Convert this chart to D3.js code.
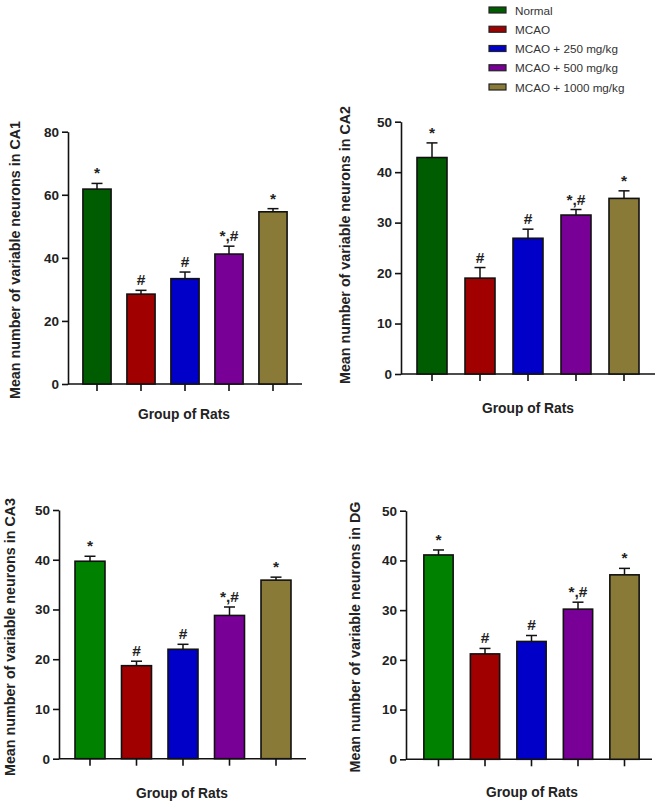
<!DOCTYPE html>
<html>
<head>
<meta charset="utf-8">
<script src="https://cdn.jsdelivr.net/npm/d3@7"></script>
<style>
  body { margin: 0; background: #fff; }
  svg { display: block; font-family: "Liberation Sans", Arial, sans-serif; }
</style>
</head>
<body>
<svg width="662" height="807"></svg>
<script>
// groups shown in every panel
const groups = ['Normal', 'MCAO', 'MCAO + 250 mg/kg', 'MCAO + 500 mg/kg', 'MCAO + 1000 mg/kg'];
const marks = ['*', '#', '#', '*,#', '*'];

// mean and SEM
const ca1Means = [61.8, 28.5, 33.4, 41.2, 54.6];
const ca1Errors = [1.8, 1.2, 2.1, 2.5, 1.0];
const ca2Means = [42.9, 19.0, 26.9, 31.5, 34.8];
const ca2Errors = [2.9, 2.1, 1.8, 1.1, 1.5];
const ca3Means = [39.7, 18.7, 22.0, 28.8, 35.9];
const ca3Errors = [1.0, 0.9, 1.0, 1.7, 0.6];
const dgMeans = [41.1, 21.2, 23.7, 30.2, 37.1];
const dgErrors = [1.0, 1.1, 1.2, 1.4, 1.3];

const ca1Ticks = [0, 20, 40, 60, 80];
const otherTicks = [0, 10, 20, 30, 40, 50];

const colorsTop = ['#005c00', '#a00000', '#0000c8', '#780096', '#8a7a38'];
const colorsBottom = ['#008200', '#a00000', '#0000c8', '#780096', '#8a7a38'];

const svg = d3.select('svg');

const panels = [
    { region: 'CA1', means: ca1Means, errs: ca1Errors, ticks: ca1Ticks, max: 80, colors: colorsTop,
      x: 68, top: 131.7, bottom: 384, axisLen: 234, band: [7, 227], pad: 0.36,
      labelX: 15, labelY: 260, titleX: 184, titleY: 419 },
    { region: 'CA2', means: ca2Means, errs: ca2Errors, ticks: otherTicks, max: 50, colors: colorsTop,
      x: 401, top: 121.7, bottom: 374, axisLen: 254, band: [7, 247], pad: 0.375,
      labelX: 345, labelY: 245, titleX: 528, titleY: 413 },
    { region: 'CA3', means: ca3Means, errs: ca3Errors, ticks: otherTicks, max: 50, colors: colorsBottom,
      x: 59, top: 510, bottom: 758.7, axisLen: 247, band: [7.75, 240.25], pad: 0.355,
      labelX: 10, labelY: 637, titleX: 182, titleY: 798 },
    { region: 'DG', means: dgMeans, errs: dgErrors, ticks: otherTicks, max: 50, colors: colorsBottom,
      x: 406, top: 510.7, bottom: 759.3, axisLen: 246, band: [9.25, 241.75], pad: 0.37,
      labelX: 355, labelY: 637, titleX: 532, titleY: 797 }
];

panels.forEach(function (p) {
    const g = svg.append('g').attr('transform', 'translate(' + p.x + ',0)');

    const y = d3.scaleLinear().domain([0, p.max]).range([p.bottom, p.top]);
    const x = d3.scaleBand().domain(groups).range(p.band).paddingInner(p.pad).paddingOuter(p.pad / 2);

    // y axis
    const yAxis = g.append('g')
        .call(d3.axisLeft(y).tickValues(p.ticks).tickSize(6).tickSizeOuter(0).tickPadding(3));
    yAxis.selectAll('path, line').attr('stroke', '#111').attr('stroke-width', 1.6);
    yAxis.selectAll('text').attr('font-size', 13.5).attr('font-weight', 'bold').attr('fill', '#222');

    // x axis
    const xAxis = g.append('g')
        .attr('transform', 'translate(0,' + p.bottom + ')')
        .call(d3.axisBottom(x).tickSize(7).tickFormat(''));
    xAxis.select('.domain').attr('d', 'M0,0H' + p.axisLen);
    xAxis.selectAll('path, line').attr('stroke', '#111').attr('stroke-width', 1.6);

    const rows = groups.map(function (gr, i) {
        return { group: gr, mean: p.means[i], err: p.errs[i], mark: marks[i], color: p.colors[i] };
    });

    // error bars (upper only)
    const eb = g.selectAll('g.err').data(rows).enter().append('g').attr('class', 'err');
    eb.append('line')
        .attr('x1', d => x(d.group) + x.bandwidth() / 2)
        .attr('x2', d => x(d.group) + x.bandwidth() / 2)
        .attr('y1', d => y(d.mean))
        .attr('y2', d => y(d.mean + d.err))
        .attr('stroke', '#111').attr('stroke-width', 1.5);
    eb.append('line')
        .attr('x1', d => x(d.group) + x.bandwidth() / 2 - 5.5)
        .attr('x2', d => x(d.group) + x.bandwidth() / 2 + 5.5)
        .attr('y1', d => y(d.mean + d.err))
        .attr('y2', d => y(d.mean + d.err))
        .attr('stroke', '#111').attr('stroke-width', 1.5);

    g.selectAll('rect.bar')
        .data(rows)
        .enter()
        .append('rect')
        .attr('class', 'bar')
        .attr('x', d => x(d.group))
        .attr('y', d => y(d.mean))
        .attr('width', x.bandwidth())
        .attr('height', d => p.bottom - y(d.mean))
        .attr('fill', d => d.color)
        .attr('stroke', '#111')
        .attr('stroke-width', 1.6);

    g.selectAll('text.mark')
        .data(rows)
        .enter()
        .append('text')
        .attr('class', 'mark')
        .attr('x', d => x(d.group) + x.bandwidth() / 2)
        .attr('y', d => y(d.mean + d.err) - 5)
        .attr('text-anchor', 'middle')
        .attr('font-size', 15.5)
        .attr('font-weight', 'bold')
        .attr('fill', '#222')
        .text(d => d.mark);

    svg.append('text')
        .attr('transform', 'translate(' + p.labelX + ',' + p.labelY + ') rotate(-90)')
        .attr('text-anchor', 'middle')
        .attr('dominant-baseline', 'central')
        .attr('font-size', 14.3)
        .attr('font-weight', 'bold')
        .attr('fill', '#222')
        .text('Mean number of variable neurons in ' + p.region);

    svg.append('text')
        .attr('x', p.titleX)
        .attr('y', p.titleY)
        .attr('text-anchor', 'middle')
        .attr('font-size', 13.8)
        .attr('font-weight', 'bold')
        .attr('fill', '#222')
        .text('Group of Rats');
});

// legend
const legendY = d3.scalePoint().domain(groups).range([10, 87]);
const legend = svg.append('g');
legend.selectAll('rect')
    .data(groups)
    .enter()
    .append('rect')
    .attr('x', 489)
    .attr('y', d => legendY(d) - 3)
    .attr('width', 17)
    .attr('height', 6)
    .attr('fill', (d, i) => colorsTop[i])
    .attr('stroke', '#222')
    .attr('stroke-width', 1.2);
legend.selectAll('text')
    .data(groups)
    .enter()
    .append('text')
    .attr('x', 515)
    .attr('y', d => legendY(d))
    .attr('dominant-baseline', 'central')
    .attr('font-size', 11.7)
    .attr('fill', '#333')
    .text(d => d);
</script>
</body>
</html>
